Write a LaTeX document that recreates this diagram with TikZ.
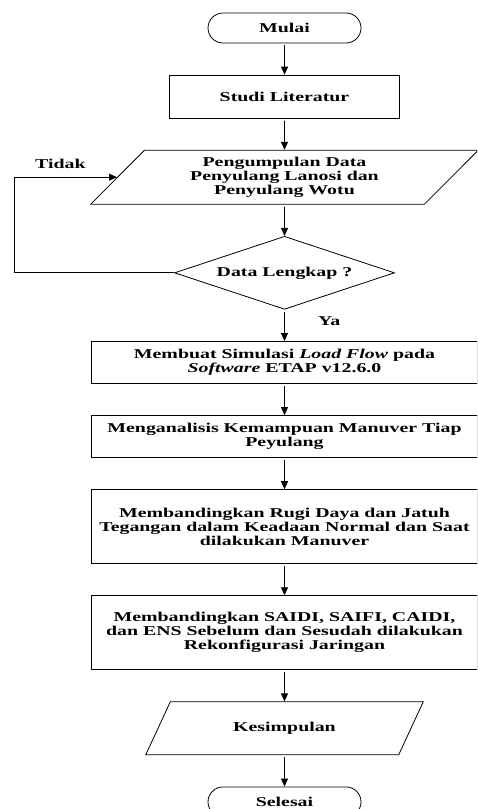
\documentclass[tikz,border=0pt]{standalone}
\usepackage{fontspec}
\setmainfont{Liberation Serif}[FakeStretch=1.47]
\usetikzlibrary{arrows.meta,positioning,shapes.geometric}

\begin{document}
\begin{tikzpicture}[x=1pt,y=-1pt,
  node distance=31.3pt,
  every node/.style={font=\fontsize{13.5}{14}\selectfont\bfseries},
  term/.style={rectangle,rounded corners=15pt,draw,line width=0.8pt,
              minimum width=153pt,minimum height=30pt},
  proc/.style={rectangle,draw,line width=0.8pt,minimum width=386pt,
              align=center,inner sep=0pt},
  io/.style={trapezium,trapezium stretches=true,draw,line width=0.8pt,
              align=center,inner sep=0pt},
  dec/.style={diamond,aspect=3,draw,line width=0.8pt,minimum width=220pt,
              minimum height=73pt,inner sep=0pt},
  arr/.style={-{Triangle[length=8pt,width=7pt]},line width=0.8pt,shorten <=2pt}]
  \useasboundingbox (0,0) rectangle (477,809);
  \clip (0,0) rectangle (477,809);
  \node[term] (n1) at (284.5,28){Mulai};
  \node[rectangle,draw,line width=0.8pt,minimum width=230pt,minimum height=43pt,
        below=of n1](n2){Studi Literatur};
  \node[io,trapezium left angle=48,trapezium right angle=132,minimum width=389pt,
        minimum height=54pt,below=of n2](n3){Pengumpulan Data\\Penyulang Lanosi dan\\Penyulang Wotu};
  \node[dec,below=of n3](n4){Data Lengkap ?};
  \node[proc,minimum height=42pt,below=of n4](n5){Membuat Simulasi \textit{Load Flow} pada\\\textit{Software} ETAP v12.6.0};
  \node[proc,minimum height=42pt,below=of n5](n6){Menganalisis Kemampuan Manuver Tiap\\Peyulang};
  \node[proc,minimum height=74pt,below=of n6](n7){Membandingkan Rugi Daya dan Jatuh\\Tegangan dalam Keadaan Normal dan Saat\\dilakukan Manuver};
  \node[proc,minimum height=74pt,below=of n7](n8){Membandingkan SAIDI, SAIFI, CAIDI,\\dan ENS Sebelum dan Sesudah dilakukan\\Rekonfigurasi Jaringan};
  \node[io,trapezium left angle=48,trapezium right angle=132,minimum width=278pt,
        minimum height=53pt,below=of n8](n9){Kesimpulan};
  \node[term,below=of n9](n10){Selesai};
  \draw[arr](n1)--(n2);\draw[arr](n2)--(n3);\draw[arr](n3)--(n4);
  \draw[arr](n4)--node[right=30pt,pos=0.35]{Ya}(n5);
  \draw[arr](n5)--(n6);\draw[arr](n6)--(n7);\draw[arr](n7)--(n8);
  \draw[arr](n8)--(n9);\draw[arr](n9)--(n10);
  \draw[arr,shorten <=0pt](n4.west)-|([xshift=-103pt]n3.west)
    --node[above,pos=0.45,yshift=5pt]{Tidak}(n3.west);
\end{tikzpicture}
\end{document}
